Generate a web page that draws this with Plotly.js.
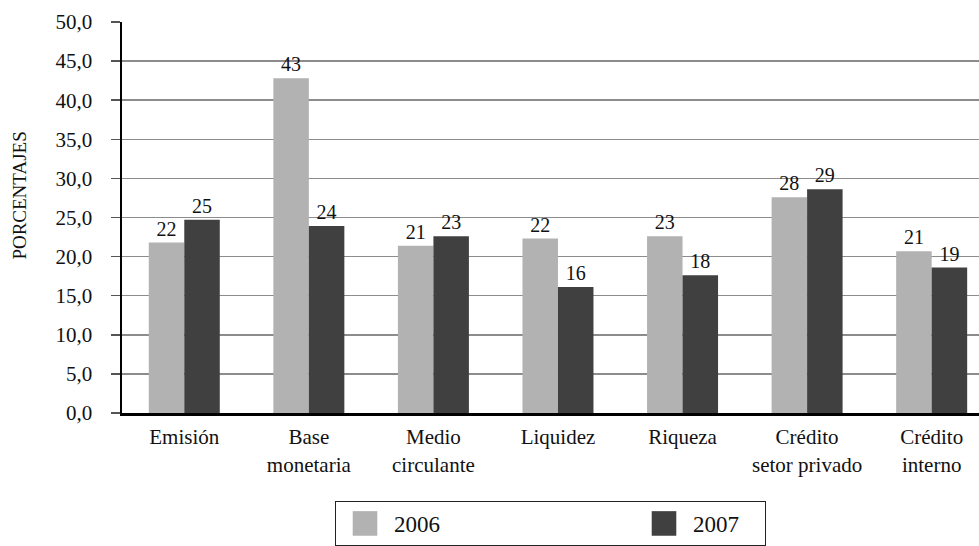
<!DOCTYPE html>
<html>
<head>
<meta charset="utf-8">
<script src="https://cdn.plot.ly/plotly-3.0.1.min.js"></script>
<style>
  html, body { margin: 0; padding: 0; background: #fff; }
  #chart { width: 979px; height: 546px; }
</style>
</head>
<body>
<div id="chart"></div>
<script>
// Growth rates of monetary aggregates, 2006 vs 2007 (%)
const categories = [
  'Emisión',
  'Base<br>monetaria',
  'Medio<br>circulante',
  'Liquidez',
  'Riqueza',
  'Crédito<br>setor privado',
  'Crédito<br>interno'
];
const values2006 = [21.8, 42.8, 21.4, 22.3, 22.6, 27.6, 20.7];
const values2007 = [24.7, 23.9, 22.6, 16.1, 17.6, 28.6, 18.6];
const seriesNames = ['2006', '2007'];
const yTicks = [0, 5, 10, 15, 20, 25, 30, 35, 40, 45, 50];

const FONT = '"Liberation Serif", serif';
const COLORS = ['#b2b2b2', '#404040'];
const LEGEND_WIDTHS = [236, 67];

function barTrace(i, values) {
  return {
    type: 'bar',
    name: seriesNames[i],
    x: categories,
    y: values,
    marker: { color: COLORS[i], line: { width: 0 } },
    texttemplate: '%{y:.0f}',
    textposition: 'outside',
    cliponaxis: false,
    textfont: { family: FONT, size: 20, color: '#111' },
    legendwidth: LEGEND_WIDTHS[i],
    hoverinfo: 'skip'
  };
}

const data = [barTrace(0, values2006), barTrace(1, values2007)];

const layout = {
  width: 979,
  height: 546,
  margin: { l: 122, r: 0, t: 22, b: 130 },
  paper_bgcolor: '#fff',
  plot_bgcolor: '#fff',
  separators: ',.',
  font: { family: FONT, color: '#111', size: 21 },
  barmode: 'group',
  bargap: 0.43,
  bargroupgap: 0,
  showlegend: true,
  legend: {
    orientation: 'h',
    x: 0.5, xanchor: 'center',
    y: -0.226, yanchor: 'top',
    bordercolor: '#222',
    borderwidth: 1,
    font: { family: FONT, size: 23, color: '#111' },
    itemwidth: 48,
    traceorder: 'normal'
  },
  xaxis: {
    type: 'category',
    range: [-0.5, 6.38],
    showline: true,
    linecolor: '#000',
    linewidth: 3,
    ticks: '',
    showgrid: false,
    tickfont: { family: FONT, size: 21, color: '#111' },
    ticklabelstandoff: 3,
    fixedrange: true
  },
  yaxis: {
    range: [0, 50],
    tickvals: yTicks,
    tickformat: '.1f',
    showline: true,
    linecolor: '#000',
    linewidth: 2.5,
    ticks: 'outside',
    ticklen: 9,
    tickwidth: 1.5,
    tickcolor: '#555',
    showgrid: true,
    gridcolor: '#8c8c8c',
    gridwidth: 1.5,
    zeroline: false,
    tickfont: { family: FONT, size: 21, color: '#111' },
    ticklabelstandoff: 14,
    fixedrange: true
  },
  annotations: [{
    text: 'PORCENTAJES',
    xref: 'paper', yref: 'paper',
    x: -0.119, y: 0.556,
    xanchor: 'center', yanchor: 'middle',
    textangle: -90,
    showarrow: false,
    font: { family: FONT, size: 19, color: '#111' }
  }]
};

Plotly.newPlot('chart', data, layout, { displayModeBar: false, staticPlot: true }).then(function () {
  // Enlarge the legend swatches to square blocks, keeping their own placement
  document.querySelectorAll('.legend .legendpoints path').forEach(function (p) {
    const t = p.getAttribute('transform') || '';
    p.setAttribute('transform', t + ' scale(2.05)');
  });
});
</script>
</body>
</html>
